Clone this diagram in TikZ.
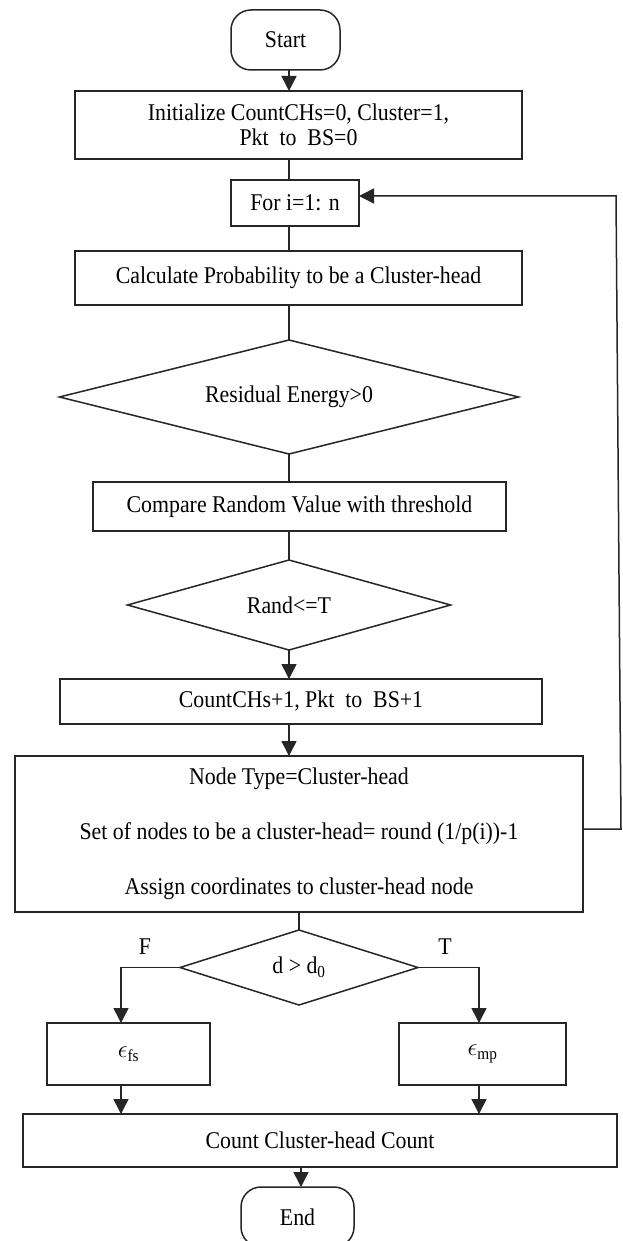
\documentclass[tikz,border=0pt]{standalone}
\usepackage{fontspec}
\setmainfont{Liberation Serif}[FakeStretch=0.91]
\usetikzlibrary{shapes.geometric,arrows.meta}
\newcommand\flowfont{\fontsize{24}{25}\selectfont}

\begin{document}
\begin{tikzpicture}[x=1pt,y=-1pt,
  line/.style={line width=1.5pt, draw=black!85},
  arr/.style={line, -{Triangle[length=15pt,width=15pt]}},
  box/.style={rectangle, draw=black!85, line width=1.5pt, inner sep=0pt,
              outer sep=0pt, font=\flowfont, align=center},
  term/.style={box, rounded corners=20pt},
  decision/.style={diamond, draw=black!85, line width=1.5pt, inner sep=0pt,
              outer sep=0pt, font=\flowfont},
  lbl/.style={font=\flowfont, inner sep=0pt}
]
% page frame
\fill[white] (0,0) rectangle (623,1241);
\useasboundingbox (0,0) rectangle (623,1241);

% main column
\node[term, minimum width=109pt, minimum height=60pt] (start) at (285.5,40) {Start};
\node[box, minimum width=447pt, minimum height=68pt] (init) at (298.5,125)
  {Initialize CountCHs=0, Cluster=1,\\Pkt~ to~ BS=0};
\node[box, minimum width=128pt, minimum height=46pt] (for) at (295,203) {For i=1: n};
\node[box, minimum width=447pt, minimum height=54pt] (calc) at (298.5,278)
  {Calculate Probability to be a Cluster-head};
\node[decision, aspect=4.03, minimum width=459pt, minimum height=114pt] (res) at (289,397)
  {Residual Energy>0};
\node[box, minimum width=413pt, minimum height=49pt] (cmp) at (299.5,506.5)
  {Compare Random Value with threshold};
\node[decision, aspect=3.6, minimum width=323pt, minimum height=90pt] (rand) at (289,605)
  {Rand<=T};
\node[box, minimum width=482pt, minimum height=45pt] (cnt) at (301,701.5)
  {CountCHs+1, Pkt~ to~ BS+1};
\node[box, minimum width=568pt, minimum height=156pt] (ntype) at (299,834)
  {Node Type=Cluster-head\\[30pt]Set of nodes to be a cluster-head= round (1/p(i))-1\\[30pt]Assign coordinates to cluster-head node};
\node[decision, aspect=3.17, minimum width=238pt, minimum height=75pt] (dd) at (299,967.5)
  {d > d\textsubscript{0}};
\node[box, minimum width=163pt, minimum height=62pt] (efs) at (128.5,1054)
  {$\epsilon$\textsubscript{fs}};
\node[box, minimum width=167pt, minimum height=62pt] (emp) at (482.5,1054)
  {$\epsilon$\textsubscript{mp}};
\node[box, minimum width=594pt, minimum height=53pt] (ccount) at (320,1140.5)
  {Count Cluster-head Count};
\node[term, minimum width=113pt, minimum height=60pt] (end) at (297.5,1217) {End};

% branch labels
\node[lbl] (lf) at (145,947) {F};
\node[lbl] (lt) at (445,947) {T};

% connector guide positions
\coordinate (spine) at (289,0);
\coordinate (xl) at (121,0);
\coordinate (xr) at (479,0);
\coordinate (xe) at (301,0);
\coordinate (loopbot) at (621,829);
\coordinate (looptop) at (616,196);

% connectors
\draw[arr]  (spine |- start.south) -- (spine |- init.north);
\draw[line] (spine |- init.south) -- (spine |- for.north);
\draw[line] (spine |- for.south) -- (spine |- calc.north);
\draw[line] (spine |- calc.south) -- (res.north);
\draw[line] (res.south) -- (res.south |- cmp.north);
\draw[line] (spine |- cmp.south) -- (rand.north);
\draw[arr]  (rand.south) -- (rand.south |- cnt.north);
\draw[arr]  (spine |- cnt.south) -- (spine |- ntype.north);
\draw[line] (ntype.south -| dd.north) -- (dd.north);
\draw[arr]  (dd.west) -| (xl |- efs.north);
\draw[arr]  (dd.east) -| (xr |- emp.north);
\draw[arr]  (xl |- efs.south) -- (xl |- ccount.north);
\draw[arr]  (xr |- emp.south) -- (xr |- ccount.north);
\draw[arr]  (xe |- ccount.south) -- (xe |- end.north);

% loop back to the for statement
\draw[arr] (ntype.east |- loopbot) -- (loopbot) -- (looptop) -- (for.east |- looptop);
\end{tikzpicture}
\end{document}
